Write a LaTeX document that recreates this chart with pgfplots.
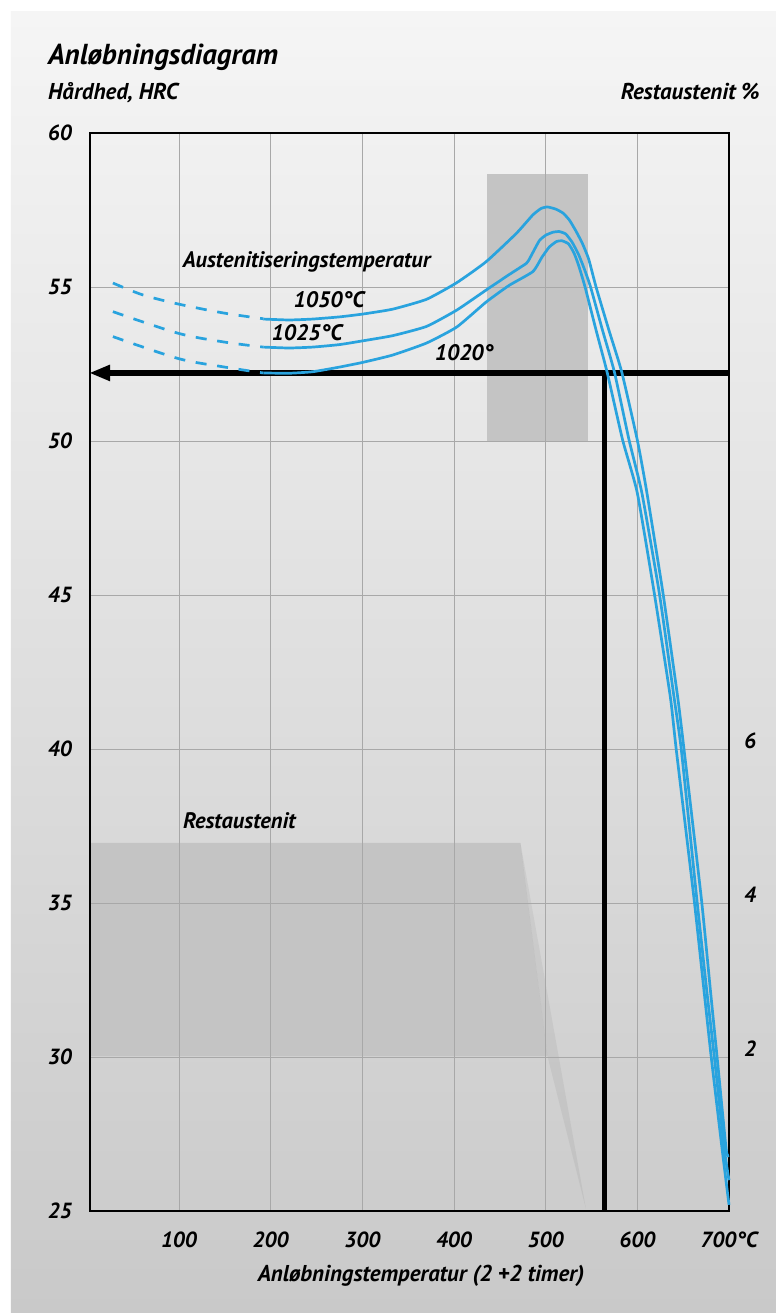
\documentclass[border=0pt]{standalone}
\usepackage{pgfplots}
\pgfplotsset{compat=1.18}
\usepackage{fontspec}
\setmainfont{PT Sans}
\usetikzlibrary{arrows.meta}
\definecolor{curveblue}{RGB}{41,163,222}
\definecolor{boxgray}{RGB}{196,196,196}
\definecolor{gridgray}{RGB}{168,168,168}
\newcommand{\annot}{\fontsize{22.5}{26}\selectfont\bfseries\itshape}
\pgfdeclarelayer{bg}
\pgfplotsset{
  layers/mylayers/.define layer set={bg,axis background,axis grid,axis ticks,axis lines,axis tick labels,main,axis descriptions,axis foreground}{},
  set layers=mylayers,
}
\begin{document}
\begin{tikzpicture}
\begin{pgfonlayer}{bg}
\fill[white] (-90bp,-102bp) rectangle (686bp,1211bp);
\shade[top color={rgb,255:red,245;green,245;blue,245}, bottom color={rgb,255:red,201;green,201;blue,201}] (-79bp,-102bp) rectangle (686bp,1199bp);
\end{pgfonlayer}
\begin{axis}[
  at={(0,0)}, anchor=south west,
  scale only axis, width=639bp, height=1078bp,
  xmin=3, xmax=700, ymin=25, ymax=60,
  xtick={100,200,300,400,500,600,700},
  xticklabels={100,200,300,400,500,600,700°C},
  ytick={25,30,35,40,45,50,55,60},
  yticklabels={25,30,35,40,45,50,55,60},
  grid=major,
  major grid style={draw=gridgray, line width=0.8bp},
  axis line style={line width=1.2bp},
  major tick length=0pt,
  tick label style={font=\fontsize{22}{26}\selectfont\bfseries\itshape},
  yticklabel style={anchor=east, inner sep=0pt, xshift=-18bp},
  xticklabel style={anchor=north, inner sep=0pt, yshift=-21bp},
  clip=false,
]
% shaded regions
\addplot[draw=none, fill=boxgray, on layer=axis background] coordinates {(435.5,50) (546.6,50) (546.6,58.67) (435.5,58.67)} -- cycle;
\addplot[draw=none, fill=boxgray, on layer=axis background] coordinates {(3,30.03) (3,36.95) (472.5,36.95) (502,30.03)} -- cycle;
\addplot[draw=none, fill=black, fill opacity=0.05, on layer=axis background] coordinates {(472.5,36.95) (544,25.06) (502,30.03)} -- cycle;
% black guide lines
\addplot[black, line width=5.5bp, -{Triangle[length=21bp,width=15bp]}] coordinates {(700,52.21) (2,52.21)};
\addplot[black, line width=5bp] coordinates {(564,52.3) (564,25)};
% 1050
\addplot[curveblue, line width=2.7bp, dash pattern=on 11bp off 10.7bp, smooth] coordinates {(28,55.13) (60,54.75) (99,54.45) (148,54.16) (192,53.97)};
\addplot[curveblue, line width=2.7bp, smooth, tension=0.3] coordinates {(192,53.96) (220,53.93) (246,53.96) (275,54.03) (300,54.12) (333,54.28) (370,54.6) (403,55.14) (435,55.82) (468,56.74) (486,57.34) (495,57.55) (502,57.60) (511,57.53) (519,57.40) (526,57.17) (533,56.82) (540,56.42) (547,55.9) (555,55.0) (569,53.6) (583,52.24) (600,50.03) (610,48.4) (628,45.06) (644,41.69) (651,39.97) (670,35.10) (680,32.08) (687,30.0) (697,26.98) (700,26.8)};
% 1025
\addplot[curveblue, line width=2.7bp, dash pattern=on 11bp off 10.7bp, smooth] coordinates {(28,54.2) (99,53.5) (148,53.22) (192,53.05)};
\addplot[curveblue, line width=2.7bp, smooth, tension=0.3] coordinates {(192,53.05) (220,53.02) (246,53.05) (275,53.13) (300,53.25) (333,53.42) (370,53.72) (403,54.25) (435,54.9) (460,55.4) (479,55.77) (483,55.95) (493,56.5) (500,56.68) (508,56.78) (515,56.8) (522,56.72) (529,56.45) (536,56.05) (542,55.6) (549,55.0) (562,53.6) (575,52.24) (591,50.03) (605,48.31) (624,45.06) (640,41.69) (648,39.97) (665,35.10) (676,32.08) (684,30) (695,26.98) (700,26.0)};
% 1020
\addplot[curveblue, line width=2.7bp, dash pattern=on 11bp off 10.7bp, smooth] coordinates {(28,53.39) (99,52.68) (148,52.41) (192,52.21)};
\addplot[curveblue, line width=2.7bp, smooth, tension=0.3] coordinates {(192,52.21) (220,52.2) (246,52.25) (275,52.4) (300,52.55) (333,52.79) (370,53.18) (403,53.70) (435,54.51) (460,55.05) (486,55.5) (496,55.97) (504,56.3) (512,56.48) (518,56.5) (525,56.4) (531,56.1) (536,55.7) (543,55.0) (555,53.6) (567,52.24) (584,50.03) (600,48.31) (618.5,45.06) (636,41.69) (642.5,39.97) (662,35.10) (673,32.08) (680.6,30) (692.6,26.98) (700,25.2)};
% annotations
\node[anchor=base west, inner sep=0pt, font=\annot] at (axis cs:104,55.62) {Austenitiseringstemperatur};
\node[anchor=base west, inner sep=0pt, font=\annot] at (axis cs:225,54.32) {1050°C};
\node[anchor=base west, inner sep=0pt, font=\annot] at (axis cs:201,53.25) {1025°C};
\node[anchor=base west, inner sep=0pt, font=\annot] at (axis cs:378.9,52.63) {1020°};
\node[anchor=base west, inner sep=0pt, font=\annot] at (axis cs:104.4,37.43) {Restaustenit};
\end{axis}
\node[anchor=base west, inner sep=0pt, font=\fontsize{29}{33}\selectfont\bfseries\itshape] at (-42bp,1146bp) {Anløbningsdiagram};
\node[anchor=base west, inner sep=0pt, font=\fontsize{23}{26}\selectfont\bfseries\itshape] at (-42bp,1111bp) {Hårdhed, HRC};
\node[anchor=base east, inner sep=0pt, font=\fontsize{23}{26}\selectfont\bfseries\itshape] at (670bp,1111bp) {Restaustenit \%};
\node[anchor=base, inner sep=0pt, font=\fontsize{23}{26}\selectfont\bfseries\itshape] at (331bp,-70bp) {Anløbningstemperatur (2 +2 timer)};
\node[inner sep=0pt, font=\fontsize{22}{26}\selectfont\bfseries\itshape] at (660bp,470bp) {6};
\node[inner sep=0pt, font=\fontsize{22}{26}\selectfont\bfseries\itshape] at (660bp,316bp) {4};
\node[inner sep=0pt, font=\fontsize{22}{26}\selectfont\bfseries\itshape] at (660bp,162bp) {2};
\end{tikzpicture}
\end{document}
